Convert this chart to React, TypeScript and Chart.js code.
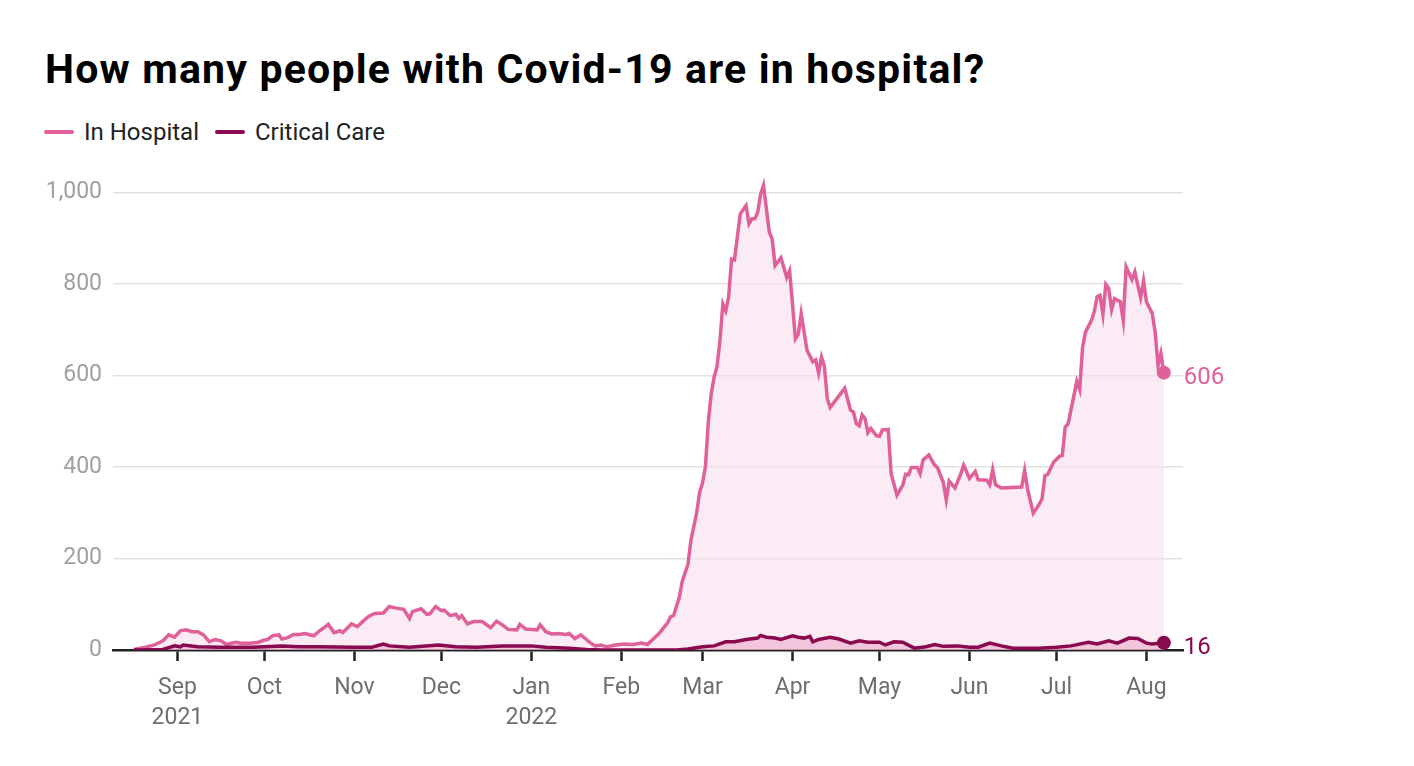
import React, { useEffect, useRef } from "react";
import { Chart, registerables } from "chart.js";

Chart.register(...registerables);

// Days counted from 1 Sep 2021 (day 0)
const monthTickDays = [0, 30, 61, 91, 122, 153, 181, 212, 242, 273, 303, 334];
const monthTickLabels: (string | string[])[] = [
  ["Sep", "2021"], "Oct", "Nov", "Dec", ["Jan", "2022"], "Feb", "Mar", "Apr", "May", "Jun", "Jul", "Aug",
];

const yTickValues = [0, 200, 400, 600, 800, 1000];

const hospitalDays = [
  -15, -11, -8, -5, -3, -1, 1, 3, 5, 7, 9, 11, 13, 15, 17, 20, 22, 25, 28, 30, 31, 33, 35, 36, 38, 40, 42, 44, 47, 49, 51, 52, 54, 56, 57, 60, 62, 64, 66, 68, 71,
  73, 75, 78, 80, 81, 84, 86, 87, 89, 91, 92, 94, 96, 97, 98, 100, 102, 105, 106, 108, 110, 112, 114, 117, 118, 120, 122, 124, 125, 127, 129, 131, 134, 135, 137, 139, 141, 142, 144, 146, 148, 151, 154,
  157, 160, 162, 164, 166, 167, 169, 170, 171, 173, 174, 176, 177, 178, 179, 180, 181, 182, 183, 184, 185, 186, 187, 188, 189, 190, 191, 192, 194, 196, 197, 198, 199, 200, 201, 202, 204, 205, 206, 208, 209, 210, 211, 212, 213, 214, 215, 217, 219, 220, 221, 222, 223, 224, 225,
  230, 232, 233, 234, 235, 236, 237, 238, 239, 241, 242, 243, 245, 246, 248, 250, 251, 252, 253, 255, 256, 257, 259, 261, 262, 264, 265, 266, 268, 270, 271, 273, 275, 276, 279, 280, 281, 282, 284,
  291, 292, 293, 295, 297, 298, 299, 300, 302, 304, 305, 306, 307, 310, 311, 312, 313, 315, 316, 317, 318, 319, 320, 321, 322, 323, 325, 326, 327, 329, 330, 332, 333, 334, 336, 337, 338, 339, 340,
];
const hospitalValues = [
  1, 6, 11, 20, 33, 28, 42, 44, 40, 40, 33, 18, 23, 20, 12, 17, 15, 15, 17, 22, 23, 32, 33, 24, 27, 34, 34, 36, 31, 42, 51, 56, 38, 42, 38, 57, 51, 63, 74, 80, 81,
  95, 92, 89, 69, 84, 90, 78, 79, 95, 86, 87, 75, 78, 69, 75, 57, 62, 62, 58, 49, 63, 55, 45, 44, 56, 46, 45, 44, 55, 40, 35, 36, 34, 36, 25, 33, 23, 17, 9, 11, 7, 11, 13,
  12, 15, 12, 24, 36, 44, 60, 73, 75, 115, 150, 188, 240, 270, 301, 345, 365, 401, 500, 560, 596, 620, 676, 756, 741, 771, 854, 852, 953, 971, 931, 942, 942, 956, 996, 1015, 913, 898, 840, 857, 836, 814, 829, 756, 680, 690, 735, 655, 630, 634, 605, 640, 620, 549, 530,
  572, 524, 520, 495, 490, 514, 506, 475, 484, 468, 467, 481, 482, 385, 338, 360, 384, 383, 399, 399, 385, 415, 426, 404, 398, 366, 328, 369, 354, 385, 404, 375, 390, 372, 371, 361, 394, 361, 354,
  356, 392, 352, 299, 318, 330, 381, 384, 410, 423, 425, 487, 494, 587, 569, 662, 695, 719, 739, 772, 775, 733, 799, 790, 744, 768, 761, 720, 837, 809, 826, 770, 807, 761, 735, 695, 622, 648, 606,
];

const criticalDays = [
  -15, -5, -1, 1, 2, 7, 15, 26, 36, 42, 49, 61, 67, 71, 73, 80, 90, 96, 103, 112, 122, 127, 135, 141, 147, 156,
  162, 172, 176, 181, 185, 189, 192, 196, 200, 201, 203, 206, 208, 212, 214, 216, 218, 219, 221, 225, 228, 232, 235, 238, 242, 244, 247, 250, 254, 258, 261, 264, 269, 273, 276, 280, 284, 288, 292, 297, 303, 308, 314, 317, 321, 324, 328, 331, 334, 336, 340,
];
const criticalValues = [
  0, 1, 9, 7, 11, 7, 6, 6, 9, 7, 7, 6, 6, 13, 9, 6, 11, 7, 6, 9, 9, 6, 4, 1, 0, 0,
  0, 0, 2, 7, 9, 18, 18, 23, 26, 32, 28, 26, 23, 31, 28, 26, 30, 18, 23, 28, 24, 15, 20, 17, 17, 11, 18, 17, 4, 7, 12, 8, 9, 6, 6, 15, 9, 4, 4, 4, 6, 9, 17, 13, 20, 15, 26, 25, 15, 13, 16,
];

const PINK = "#e0609a";
const DARK = "#8a0a50";

const endLabels = {
  id: "endLabels",
  afterDatasetsDraw(chart: any) {
    const { ctx } = chart;
    ctx.save();
    ctx.font = "24px Roboto";
    ctx.textBaseline = "middle";
    ctx.textAlign = "left";
    chart.data.datasets.forEach((ds: any, i: number) => {
      const meta = chart.getDatasetMeta(i);
      const last = meta.data[meta.data.length - 1];
      const v = ds.data[ds.data.length - 1].y;
      ctx.fillStyle = ds.borderColor;
      ctx.fillText(String(v), last.x + 20, last.y + 5);
    });
    ctx.restore();
  },
};

export default function App() {
  const ref = useRef<HTMLCanvasElement>(null);
  useEffect(() => {
    if (!ref.current) return;
    const crit = criticalDays.map((d, i) => ({ x: d, y: criticalValues[i] }));
    const hosp = hospitalDays.map((d, i) => ({ x: d, y: hospitalValues[i] }));
    const chart = new Chart(ref.current, {
      type: "line",
      data: {
        datasets: [
          {
            label: "Critical Care",
            data: crit,
            borderColor: DARK,
            backgroundColor: "rgba(232,150,190,0.45)",
            fill: "origin",
            borderWidth: 3.5,
            tension: 0,
            pointRadius: (c: any) => (c.dataIndex === crit.length - 1 ? 7 : 0),
            pointBackgroundColor: DARK,
            pointBorderWidth: 0,
          },
          {
            label: "In Hospital",
            data: hosp,
            borderColor: PINK,
            backgroundColor: "rgba(249,222,236,0.6)",
            fill: "origin",
            borderWidth: 3.5,
            tension: 0,
            pointRadius: (c: any) => (c.dataIndex === hosp.length - 1 ? 7 : 0),
            pointBackgroundColor: PINK,
            pointBorderWidth: 0,
          },
        ],
      },
      options: {
        animation: false,
        responsive: false,
        events: [],
        layout: { padding: { left: 0, right: 231, top: 174, bottom: 20 } },
        plugins: { legend: { display: false }, tooltip: { enabled: false }, title: { display: false } },
        scales: {
          x: {
            type: "linear",
            min: -22.2,
            max: 346.6,
            afterBuildTicks: (s: any) => {
              s.ticks = monthTickDays.map((v) => ({ value: v }));
            },
            afterFit: (s: any) => {
              s.height = 96;
            },
            ticks: {
              autoSkip: false,
              maxRotation: 0,
              padding: 12,
              color: "#6e6e6e",
              font: { family: "Roboto", size: 23, lineHeight: 1.3 },
              callback: (v: any) => {
                const i = monthTickDays.indexOf(v);
                return i >= 0 ? monthTickLabels[i] : "";
              },
            },
            grid: { drawOnChartArea: false, drawTicks: true, tickLength: 11, tickColor: "#222", tickWidth: 2.5, color: "#222" },
            border: { display: true, color: "#222", width: 2.5 },
          },
          y: {
            min: 0,
            max: 1040,
            afterBuildTicks: (s: any) => {
              s.ticks = yTickValues.map((v) => ({ value: v }));
            },
            afterFit: (s: any) => {
              s.width = 113;
            },
            ticks: {
              padding: 11,
              color: "#a0a0a0",
              font: { family: "Roboto", size: 23 },
              callback: (v: any) => Number(v).toLocaleString("en-US"),
            },
            grid: { color: "#e2e2e2", lineWidth: 1.5, drawTicks: false },
            border: { display: false },
          },
        },
      },
      plugins: [endLabels],
    });
    return () => chart.destroy();
  }, []);

  return (
    <div style={{ position: "absolute", left: 0, top: 0, width: 1414, height: 766, background: "#fff", fontFamily: "Roboto" }}>
      <div style={{ position: "absolute", left: 45, top: 45, fontSize: 41, fontWeight: 700, letterSpacing: 1.2, color: "#000", whiteSpace: "nowrap", lineHeight: "48px" }}>
        How many people with Covid-19 are in hospital?
      </div>
      <div style={{ position: "absolute", left: 44, top: 117, fontSize: 24, color: "#222", display: "flex", alignItems: "center", lineHeight: "30px", whiteSpace: "nowrap" }}>
        <span style={{ display: "inline-block", width: 30, height: 4, borderRadius: 2, background: PINK, marginRight: 10 }} />
        <span style={{ marginRight: 16 }}>In Hospital</span>
        <span style={{ display: "inline-block", width: 30, height: 4, borderRadius: 2, background: DARK, marginRight: 10 }} />
        <span>Critical Care</span>
      </div>
      <canvas ref={ref} width={1414} height={766} style={{ position: "absolute", left: 0, top: 0 }} />
    </div>
  );
}
